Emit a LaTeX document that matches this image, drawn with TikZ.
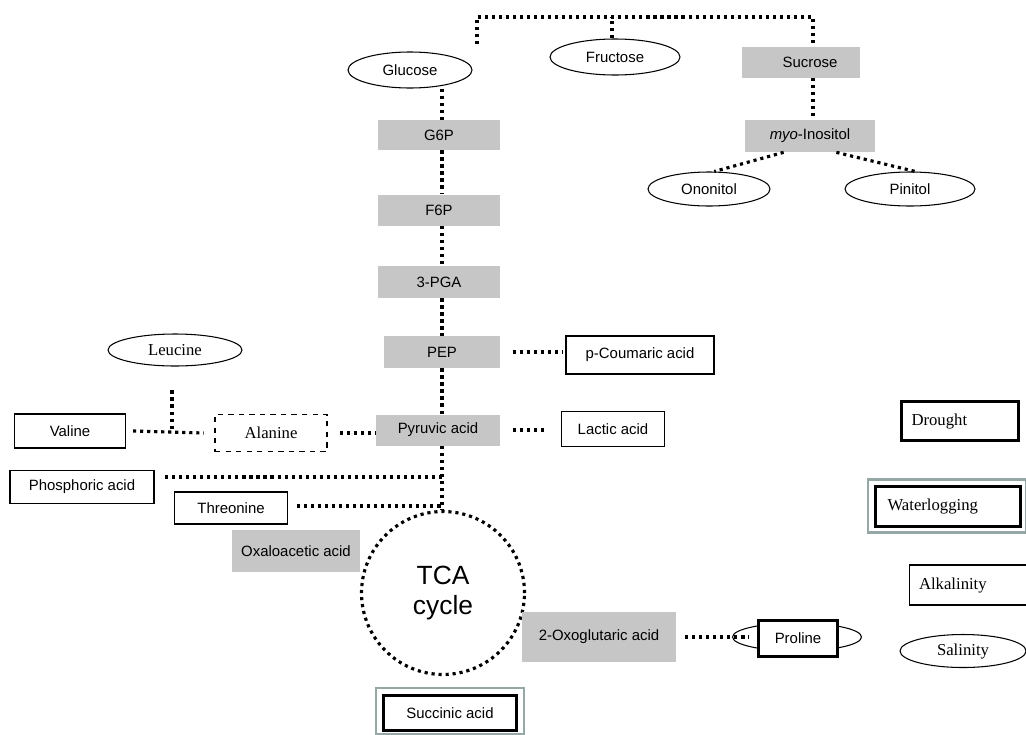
\documentclass[tikz,border=0pt]{standalone}
\usepackage{fontspec}
\setmainfont{Liberation Serif}
\setsansfont{Liberation Sans}
\usetikzlibrary{shapes,backgrounds}
\definecolor{boxgray}{RGB}{198,198,198}
\definecolor{framegray}{RGB}{150,168,165}
\begin{document}
\begin{tikzpicture}[x=0.02cm,y=-0.02cm,
      font=\sffamily\fontsize{8.5}{10}\selectfont,
      gbox/.style={fill=boxgray, inner sep=2pt},
      wbox/.style={draw, line width=0.6pt, fill=white, inner sep=2pt},
      ell/.style={ellipse, draw, line width=0.6pt, fill=white, inner sep=1pt},
      thickbox/.style={draw, line width=1.7pt, fill=white, inner sep=2pt},
      framebox/.style={draw=framegray, line width=1.2pt},
      serif/.style={font=\rmfamily\fontsize{9.5}{11}\selectfont},
      lefttext/.style={align=left, inner xsep=#1},
      dotline/.style={line width=1.8pt, dash pattern=on 1.8pt off 2.2pt}]
      \useasboundingbox (0,0) rectangle (1026,734);

      \node [ell, minimum width=2.48cm, minimum height=0.72cm] (glucose) at (410,70) {Glucose};
      \node [ell, minimum width=2.6cm, minimum height=0.72cm] (fructose) at (615,57) {Fructose};
      \node [gbox, minimum width=2.36cm, minimum height=0.62cm] (sucrose) at (801,62) {\hspace{1.2em}Sucrose};
      \node [gbox, minimum width=2.44cm, minimum height=0.6cm] (g6p) at (439,135) {G6P};
      \node [gbox, minimum width=2.44cm, minimum height=0.62cm] (f6p) at (439,210) {F6P};
      \node [gbox, minimum width=2.44cm, minimum height=0.64cm] (pga) at (439,282) {3-PGA};
      \node [gbox, minimum width=2.32cm, minimum height=0.64cm] (pep) at (442,352) {PEP};
      \node [gbox, minimum width=2.48cm, minimum height=0.62cm] (pyruvic) at (438,430) {Pyruvic acid};
      \node [gbox, minimum width=2.6cm, minimum height=0.64cm] (inositol) at (810,136) {\textit{myo}-Inositol};
      \node [ell, minimum width=2.44cm, minimum height=0.68cm] (ononitol) at (709,189) {Ononitol};
      \node [ell, minimum width=2.6cm, minimum height=0.68cm] (pinitol) at (910,189) {Pinitol};
      \node [wbox, minimum width=2.96cm, minimum height=0.76cm] (coumaric) at (640,355) {p-Coumaric acid\hspace{1.2em}};
      \node [wbox, minimum width=2.06cm, minimum height=0.7cm] (lactic) at (613,429) {Lactic acid\hspace{1em}};
      \node [ell, serif, minimum width=2.68cm, minimum height=0.64cm] (leucine) at (175,350) {Leucine};
      \node [wbox, minimum width=2.22cm, minimum height=0.68cm] (valine) at (70,431) {Valine};
      \node [wbox, serif, dashed, minimum width=2.24cm, minimum height=0.74cm] (alanine) at (271,433) {Alanine};
      \node [wbox, minimum width=2.88cm, minimum height=0.66cm] (phosphoric) at (82,487) {Phosphoric acid};
      \node [wbox, minimum width=2.26cm, minimum height=0.64cm] (threonine) at (231,508) {Threonine};
      \node [circle, draw, dotline, minimum size=3.26cm, align=center,
             font=\sffamily\fontsize{15}{17.5}\selectfont] (tca) at (443,593) {TCA\\cycle};
      \node [gbox, minimum width=2.58cm, minimum height=0.84cm] (oxaloacetic) at (296,551) {Oxaloacetic acid};
      \node [gbox, minimum width=3.08cm, minimum height=1.0cm] (oxoglutaric) at (599,637) {2-Oxoglutaric acid};
      \node [ell, minimum width=2.58cm, minimum height=0.56cm] (prolineell) at (797,637) {};
      \node [thickbox, minimum width=1.58cm, minimum height=0.72cm] (proline) at (798,638) {Proline\hspace{0.6em}};
      \node [framebox, minimum width=2.96cm, minimum height=0.92cm] (succinicframe) at (450,711) {};
      \node [thickbox, minimum width=2.66cm, minimum height=0.7cm] (succinic) at (450,713) {Succinic acid};

      \node [thickbox, serif, lefttext=0.2cm, text width=1.94cm, minimum height=0.78cm] (drought) at (960,421) {Drought};
      \node [framebox, minimum width=3.16cm, minimum height=1.06cm] (waterframe) at (947,506) {};
      \node [thickbox, serif, lefttext=0.24cm, text width=2.42cm, minimum height=0.8cm] (waterlogging) at (948,506) {Waterlogging};
      \node [wbox, serif, lefttext=0.2cm, text width=2.0cm, minimum height=0.8cm] (alkalinity) at (969,585) {Alkalinity};
      \node [ell, serif, minimum width=2.52cm, minimum height=0.66cm] (salinity) at (963,651) {Salinity};

      \coordinate (spine) at (442,0);
      \coordinate (topglu) at (477,17);
      \coordinate (topfru) at (612,17);
      \coordinate (topsuc) at (813,17);
      \coordinate (jphos) at (442,477);
      \coordinate (jthr) at (442,506);
      \coordinate (jleu) at (172,432);

      \draw [dotline] ([yshift=4pt]glucose.north -| topglu) -- (topglu) -- (topsuc) -- (sucrose.north -| topsuc);
      \draw [dotline] (fructose.north -| topfru) -- (topfru);
      \draw [dotline] (sucrose.south -| topsuc) -- (inositol.north -| topsuc);
      \draw [dotline] ([xshift=-15pt]inositol.south) -- ([xshift=3pt]ononitol.north);
      \draw [dotline] ([xshift=15pt]inositol.south) -- ([xshift=3pt]pinitol.north);

      \draw [dotline] (glucose.south -| spine) -- (g6p.north -| spine);
      \draw [dotline] (g6p.south -| spine) -- (f6p.north -| spine);
      \draw [dotline] (f6p.south -| spine) -- (pga.north -| spine);
      \draw [dotline] (pga.south -| spine) -- (pep.north -| spine);
      \draw [dotline] (pep.south -| spine) -- (pyruvic.north -| spine);
      \draw [dotline] (pyruvic.south -| spine) -- (tca.north -| spine);

      \draw [dotline] ([xshift=7pt]pep.east) -- ([xshift=-2pt]coumaric.west |- pep.east);
      \draw [dotline] ([xshift=7pt]pyruvic.east) -- ([xshift=-8.5pt]lactic.west |- pyruvic.east);
      \draw [dotline] ([xshift=7pt]alanine.east) -- (pyruvic.west |- alanine.east);
      \draw [dotline] ([xshift=4pt]valine.east) -- ([xshift=-6pt]alanine.west);
      \draw [dotline] ([yshift=-13.6pt]leucine.south -| jleu) -- (jleu);
      \draw [dotline] ([xshift=6pt]phosphoric.east |- jphos) -- (jphos);
      \draw [dotline] ([xshift=5pt]threonine.east |- jthr) -- (jthr);
      \draw [dotline] ([xshift=5pt]oxoglutaric.east) -- ([xshift=9.6pt]prolineell.west);
\end{tikzpicture}
\end{document}
